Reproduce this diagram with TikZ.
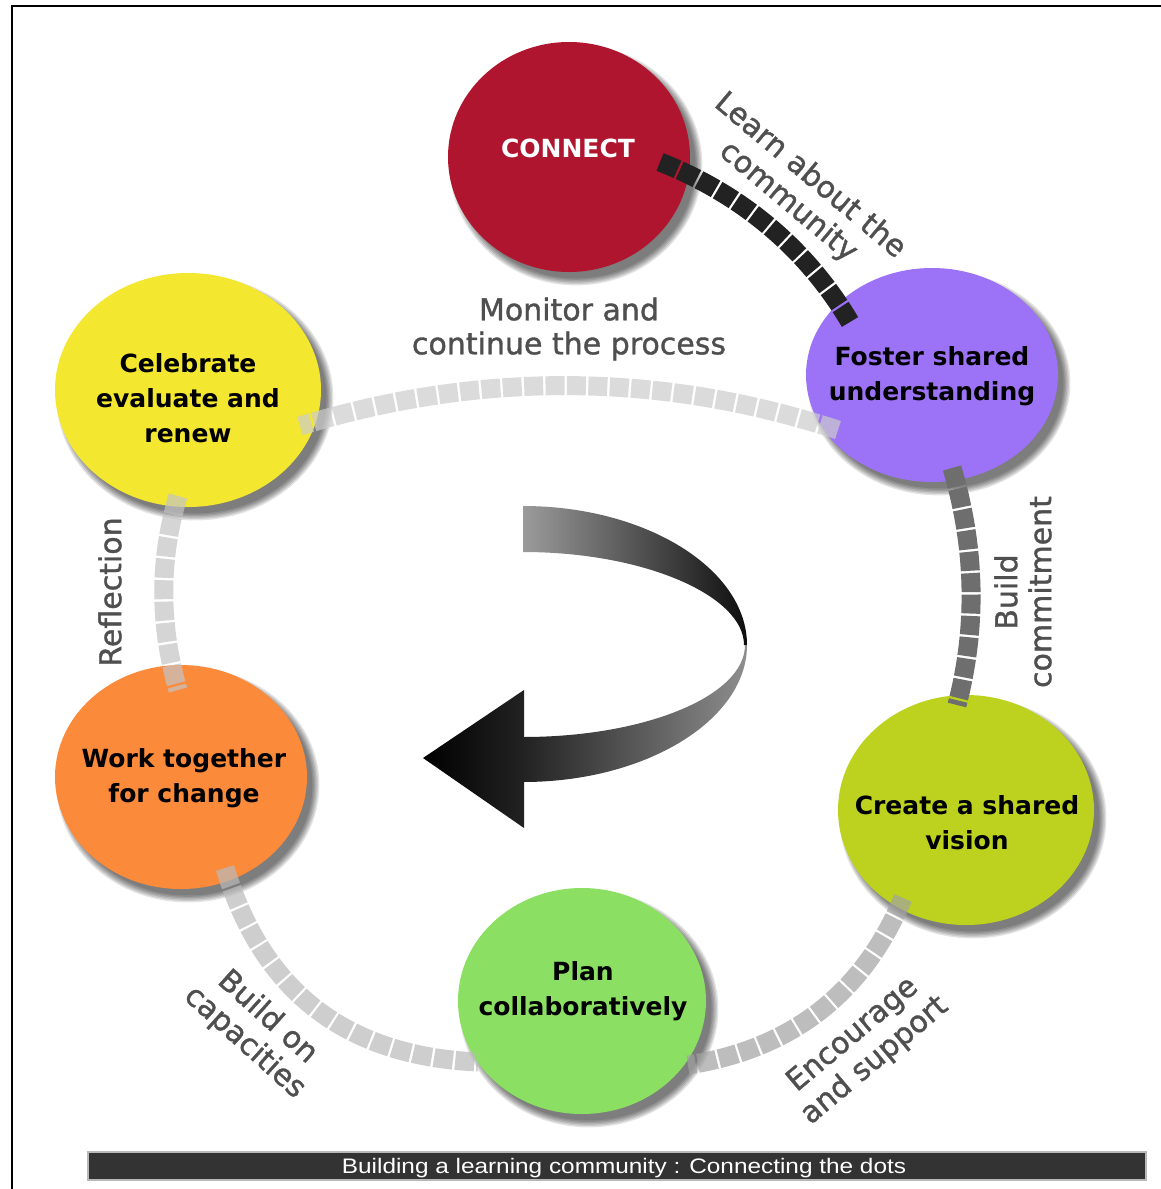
\documentclass[tikz,border=0pt]{standalone}
\usepackage{fontspec}
\usepackage{graphicx}
\usetikzlibrary{shapes.geometric}
\setmainfont{DejaVu Sans}
\newfontfamily\lblfont[FakeBold=1.2]{DejaVu Sans}
\newfontfamily\capfont{Liberation Sans}
\definecolor{cconnect}{HTML}{B0152F}
\definecolor{cfoster}{HTML}{9C72F6}
\definecolor{ccreate}{HTML}{BCD21F}
\definecolor{cplan}{HTML}{8BE063}
\definecolor{cwork}{HTML}{FB8A3B}
\definecolor{ccele}{HTML}{F4E72F}
\definecolor{lblgray}{HTML}{4F4F4F}
\definecolor{capbar}{HTML}{333333}
\definecolor{arcA}{HTML}{222222}
\definecolor{arcB}{HTML}{CDCDCD}
\definecolor{arcC}{HTML}{6E6E6E}
\definecolor{arcD}{HTML}{A2A2A2}
\definecolor{arcE}{HTML}{BABABA}
\definecolor{arcF}{HTML}{C4C4C4}
\definecolor{rib1}{HTML}{9B9B9B}
\definecolor{rib2}{HTML}{0E0E0E}
\definecolor{rib3}{HTML}{222222}
\definecolor{rib4}{HTML}{8E8E8E}
\begin{document}
\begin{tikzpicture}[x=0.5pt,y=-0.5pt,
  blob/.style={ellipse, inner sep=0pt, draw=none},
  ctext/.style={align=center, font=\fontsize{12.5pt}{17.5pt}\selectfont\bfseries, text=black, inner sep=0pt},
  ltext/.style={align=center, font=\lblfont\fontsize{15pt}{17pt}\selectfont, text=lblgray, inner sep=0pt},
  link/.style={line width=9.5pt, dash pattern=on 9.5pt off 1.2pt},
  faint/.style={opacity=0.7}
]
\useasboundingbox (0,0) rectangle (1161,1189);
\fill[white] (0,0) rectangle (1161,1189);

% shadows
\foreach \cx/\cy/\rx/\ry in {569/157/121/115, 932/375/126/107, 966/810/128/115, 582/1001/124/113, 181/777/126/112, 188/390/133/117} {
  \foreach \k in {1,...,6} {
    \fill[black, opacity=0.11] (\cx+7,\cy+8) ellipse [x radius=\rx-3+1.4*\k, y radius=\ry-3+1.4*\k];
  }
}

% circles
\node[blob, fill=cconnect, minimum width=121pt, minimum height=115pt] (connect) at (569,157) {};
\node[blob, fill=cfoster, minimum width=126pt, minimum height=107pt] (foster) at (932,375) {};
\node[blob, fill=ccreate, minimum width=128pt, minimum height=115pt] (create) at (966,810) {};
\node[blob, fill=cplan, minimum width=124pt, minimum height=113pt] (plan) at (582,1001) {};
\node[blob, fill=cwork, minimum width=126pt, minimum height=112pt] (work) at (181,777) {};
\node[blob, fill=ccele, minimum width=133pt, minimum height=117pt] (cele) at (188,390) {};

% central ribbon arrow
\shade[left color=rib1, right color=rib2] (523,506) .. controls (646,506) and (747,569) .. (747,645) -- (744,645) .. controls (744,596) and (645,552) .. (523,552) -- cycle;
\shade[left color=rib3, right color=rib4] (747,645) .. controls (747,720) and (646,782) .. (523,782) -- (523,737) .. controls (645,737) and (745,696) .. (745,645) -- cycle;
\shade[left color=black, right color=rib3] (423,758) -- (524,690) -- (524,828) -- cycle;

% connector end points
\coordinate (a1s) at (660,162); \coordinate (a1e) at (850,322);
\coordinate (a2s) at (838,430); \coordinate (a2e) at (300,426);
\coordinate (a3s) at (952,468); \coordinate (a3e) at (957,705);
\coordinate (a4s) at (903,898); \coordinate (a4e) at (688,1065);
\coordinate (a5s) at (225,868); \coordinate (a5e) at (478,1062);
\coordinate (a6s) at (178,496); \coordinate (a6e) at (178,690);

% connectors
\draw[link, draw=arcA] (a1s) .. controls (741,194) and (806,248) .. (a1e);
\draw[link, draw=arcB, faint] (a2s) .. controls (660,372) and (481,371) .. (a2e);
\draw[link, draw=arcC] (a3s) .. controls (976,549) and (977,628) .. (a3e);
\draw[link, draw=arcD, faint] (a4s) .. controls (863,994) and (791,1049) .. (a4e);
\draw[link, draw=arcE, faint] (a5s) .. controls (263,992) and (346,1056) .. (a5e);
\draw[link, draw=arcF, faint] (a6s) .. controls (159,560) and (159,624) .. (a6e);

% circle texts
\node[ctext, text=white] (tconnect) at (568,148) {CONNECT};
\node[ctext] (tfoster) at (932,376) {Foster shared\\understanding};
\node[ctext] (tcreate) at (967,823) {Create a shared\\vision};
\node[ctext] (tplan) at (583,991) {Plan\\collaboratively};
\node[ctext] (twork) at (184,778) {Work together\\for change};
\node[ctext] (tcele) at (188,398) {Celebrate\\evaluate and\\renew};

% connector labels
\node[ltext, rotate=-40] (l1) at (799,189) {Learn about the\\community};
\node[ltext] (l2) at (569,329) {Monitor and\\continue the process};
\node[ltext, rotate=90] (l3) at (1023,592) {Build\\commitment};
\node[ltext, rotate=40] (l4) at (864,1048) {Encourage\\and support};
\node[ltext, rotate=-42] (l5) at (256,1030) {Build on\\capacities};
\node[ltext, rotate=90] (l6) at (110,592) {Reflection};

% caption bar
\node[fill=capbar, draw=gray!55, line width=0.8pt, minimum width=529pt, minimum height=14pt, inner sep=0pt] (bar) at (617,1166) {};
\node[anchor=base, text=white, inner sep=0pt, font=\capfont\fontsize{10.5pt}{12pt}\selectfont] (cap) at (624,1173) {\scalebox{1.16}[1]{Building a learning community : Connecting the dots}};

% frame
\draw[line width=1.3pt, black] (12,1189) -- (12,6) -- (1161,6);
\end{tikzpicture}
\end{document}
